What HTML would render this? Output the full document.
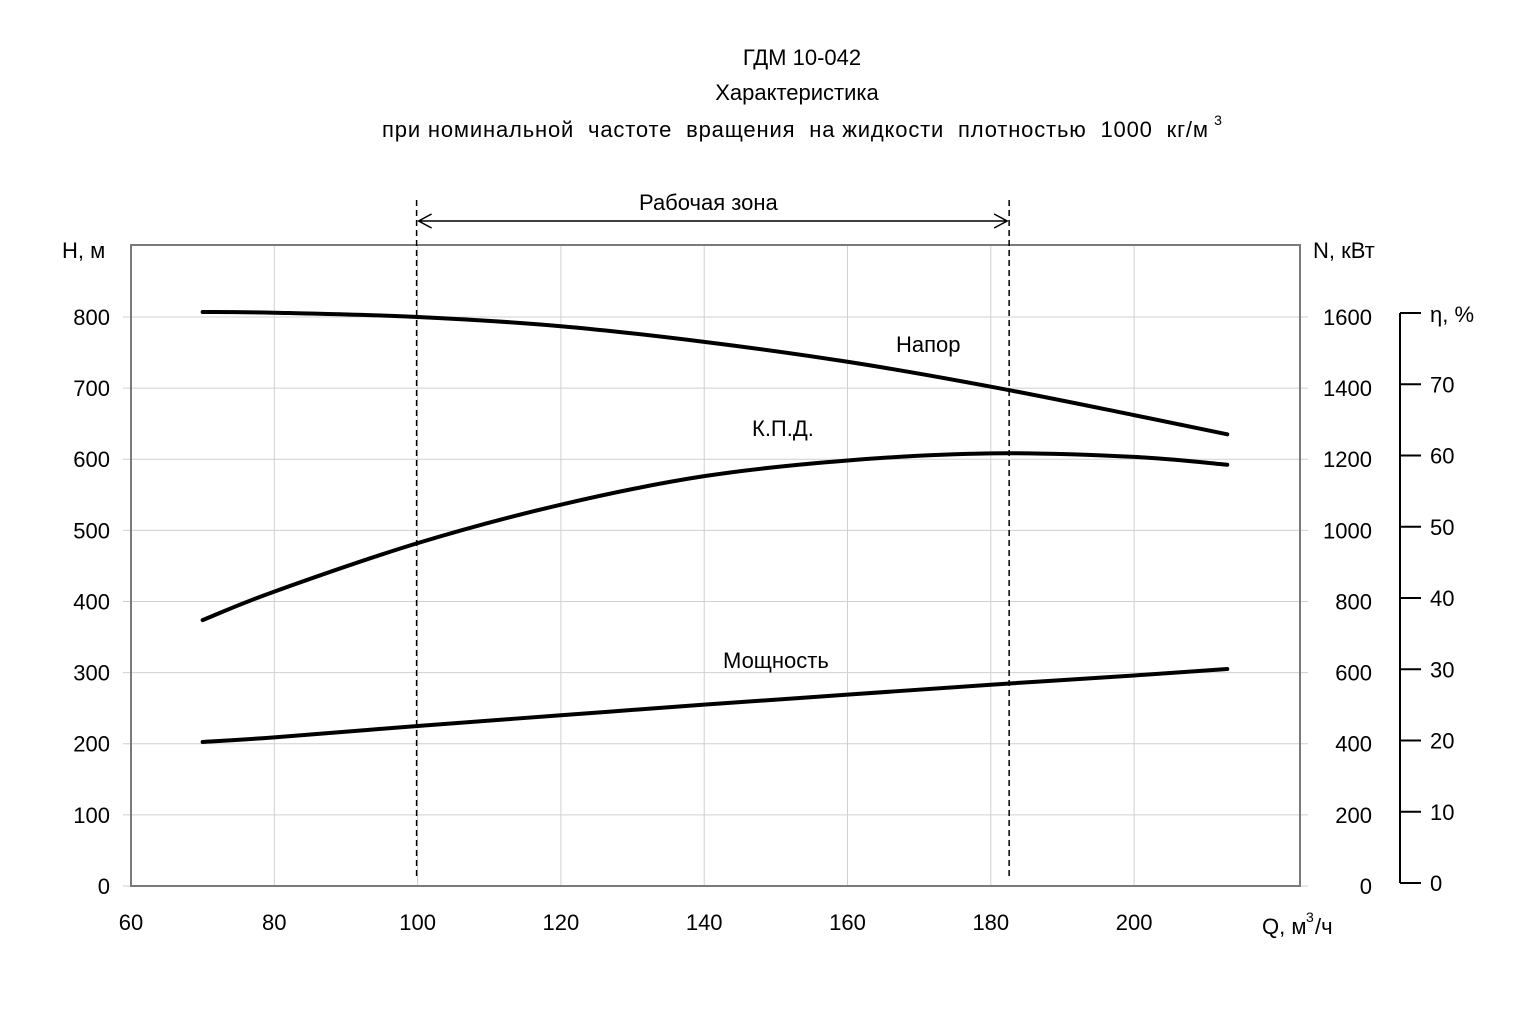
<!DOCTYPE html>
<html><head><meta charset="utf-8"><style>
html,body{margin:0;padding:0;background:#fff}
svg text{font-family:"Liberation Sans",sans-serif;fill:#000}
</style></head><body>
<svg width="1536" height="1004" xmlns="http://www.w3.org/2000/svg">
<g id="titles" font-size="22" text-anchor="middle">
<text x="802" y="65">ГДМ 10-042</text>
<text x="797" y="100">Характеристика</text>
<text x="795" y="137" textLength="826" lengthAdjust="spacing" xml:space="preserve">при номинальной  частоте  вращения  на жидкости  плотностью  1000  кг/м</text>
<text x="1218" y="125" font-size="14">3</text>
</g>
<g id="grid"></g>
<g id="axes"></g>
<g id="series"></g>
</svg>
<script>
const qTicks=[60,80,100,120,140,160,180,200];
const hTicks=[0,100,200,300,400,500,600,700,800];
const nTicks=[0,200,400,600,800,1000,1200,1400,1600];
const etaTicks=[0,10,20,30,40,50,60,70];
const qValues=[70,80,100,120,140,160,180,200,213];
const headValues=[807,806,800,787,765,737,702,662,635];
const etaValues=[36.9,40.9,47.7,53.1,57.1,59.3,60.3,59.8,58.7];
const powerValues=[405,418,450,480,510,538,566,592,610];
const zoneQ=[100,182.7];

const NS='http://www.w3.org/2000/svg';
const X=q=>131+(q-60)*7.165;
const YH=h=>886-h*0.7113;
const YN=n=>886-n*0.35565;
const YE=e=>883-e*7.125;
function mk(tag,attrs,parent,txt){const e=document.createElementNS(NS,tag);for(const k in attrs)e.setAttribute(k,attrs[k]);if(txt!==undefined)e.textContent=txt;parent.appendChild(e);return e;}
const grid=document.getElementById('grid'),axes=document.getElementById('axes'),series=document.getElementById('series');
const L=131,R=1300,T=245,B=886;
qTicks.forEach(q=>{
  if(q>60){const l=mk('line',{x1:X(q),x2:X(q),y1:T,y2:B,stroke:'#d0d0d0','stroke-width':1},grid);
  
  }
  const t=mk('text',{x:X(q),y:930,'font-size':22,'text-anchor':'middle'},axes,q);
  
  
});
hTicks.forEach(h=>{
  const l=mk('line',{x1:L-8,x2:R+8,y1:YH(h),y2:YH(h),stroke:'#d0d0d0','stroke-width':1},grid);
  
  
  const t=mk('text',{x:110,y:YH(h)+8,'font-size':22,'text-anchor':'end'},axes,h);
  
  
});
nTicks.forEach(n=>{
  const t=mk('text',{x:1372,y:YN(n)+8,'font-size':22,'text-anchor':'end'},axes,n);
  
  
});
const box=mk('rect',{x:L,y:T,width:R-L,height:B-T,fill:'none',stroke:'#7a7a7a','stroke-width':2},axes);


const ea=mk('line',{x1:1400,x2:1400,y1:YE(80),y2:YE(0),stroke:'#000','stroke-width':2},axes);


etaTicks.concat([80]).forEach(e=>{
  const l=mk('line',{x1:1400,x2:1421,y1:YE(e),y2:YE(e),stroke:'#000','stroke-width':2},axes);
  
  
});
etaTicks.forEach(e=>{
  const t=mk('text',{x:1430,y:YE(e)+8,'font-size':22},axes,e);
  
  
});
const labels=[['H,  м',62,258,'y-axis-title-h'],['N, кВт',1313,258,'y-axis-title-n'],['η, %',1430,322,'y-axis-title-eta'],['Рабочая   зона',639,210,'work-zone-label'],['Напор',896,352,'label-head'],['К.П.Д.',752,436,'label-efficiency'],['Мощность',723,668,'label-power']];
labels.forEach(a=>{const t=mk('text',{x:a[1],y:a[2],'font-size':22,'xml:space':'preserve'},axes,a[0]);
  
  });
const xt=mk('text',{x:1262,y:934,'font-size':22},axes,'Q, м');


const xs=mk('text',{x:1306,y:922,'font-size':14},axes,'3');


const xs2=mk('text',{x:1315,y:934,'font-size':22},axes,'/ч');


zoneQ.forEach(q=>{const l=mk('line',{x1:X(q)-1,x2:X(q)-1,y1:200,y2:880,stroke:'#000','stroke-width':1.5,'stroke-dasharray':'6,4'},series);
  
  });
const x1=X(zoneQ[0])+1,x2=X(zoneQ[1])-3;
const ar=mk('path',{d:`M${x1} 221H${x2}M${x1+13} 214L${x1} 221L${x1+13} 228M${x2-13} 214L${x2} 221L${x2-13} 228`,stroke:'#000','stroke-width':1.5,fill:'none'},series);


function curve(vals,yf,name){
  const pts=qValues.map((q,i)=>[X(q),yf(vals[i])]);
  let d='M'+pts[0][0]+' '+pts[0][1];
  for(let i=0;i<pts.length-1;i++){const p0=pts[Math.max(0,i-1)],p1=pts[i],p2=pts[i+1],p3=pts[Math.min(pts.length-1,i+2)];
    d+=` C${p1[0]+(p2[0]-p0[0])/6} ${p1[1]+(p2[1]-p0[1])/6} ${p2[0]-(p3[0]-p1[0])/6} ${p2[1]-(p3[1]-p1[1])/6} ${p2[0]} ${p2[1]}`;}
  const p=mk('path',{d:d,fill:'none',stroke:'#000','stroke-width':4,'stroke-linecap':'round'},series);
  
  
}
curve(headValues,YH,'head-curve');
curve(etaValues,YE,'efficiency-curve');
curve(powerValues,YN,'power-curve');
</script>
</body></html>
